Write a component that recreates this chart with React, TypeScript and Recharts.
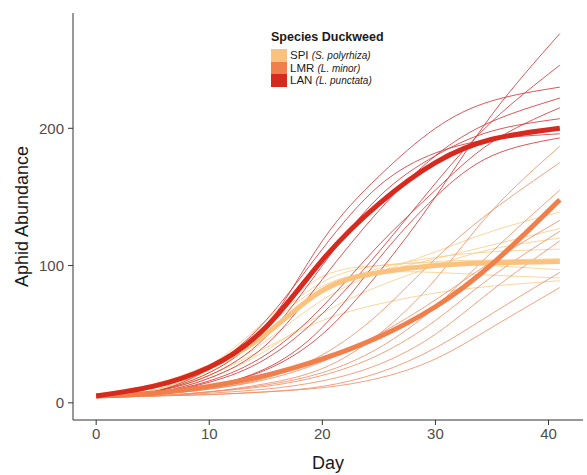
import { Line, LineChart, XAxis, YAxis } from "recharts";

// sampled days for every curve
const days = [0, 5, 10, 15, 20, 25, 30, 35, 41];

// fitted mean curves per species
const spiMean = [5, 12, 26, 50, 82, 95, 100, 102, 103];
const lmrMean = [5, 7, 12, 20, 32, 48, 70, 101, 148];
const lanMean = [5, 12, 26, 55, 104, 145, 175, 192, 200];

// individual replicates
const spiReps = [
  [4, 8, 20, 45, 75, 95, 110, 125, 139],
  [4, 8, 22, 50, 80, 95, 105, 115, 127],
  [4, 9, 25, 55, 85, 95, 95, 93, 91],
  [4, 8, 20, 40, 60, 72, 80, 85, 89],
  [4, 9, 27, 60, 92, 100, 103, 104, 105],
  [4, 8, 24, 52, 82, 98, 106, 110, 112],
  [4, 7, 18, 38, 65, 85, 100, 112, 120],
  [4, 9, 26, 57, 88, 100, 102, 100, 97],
];

const lmrReps = [
  [4, 5, 8, 14, 25, 50, 90, 140, 187],
  [4, 5, 8, 13, 22, 40, 70, 110, 155],
  [4, 5, 7, 10, 16, 28, 50, 82, 118],
  [4, 5, 6, 8, 12, 22, 40, 65, 95],
  [4, 5, 6, 8, 11, 18, 32, 55, 84],
  [4, 6, 10, 18, 35, 65, 105, 140, 175],
  [4, 6, 10, 17, 30, 50, 75, 103, 133],
  [4, 5, 8, 12, 20, 35, 60, 92, 125],
];

const lanReps = [
  [4, 6, 12, 24, 50, 95, 150, 210, 269],
  [4, 7, 15, 32, 65, 110, 160, 205, 246],
  [4, 8, 22, 55, 118, 165, 200, 220, 230],
  [4, 7, 18, 42, 90, 140, 180, 205, 222],
  [4, 8, 20, 48, 100, 150, 180, 198, 207],
  [4, 8, 25, 60, 112, 158, 182, 192, 196],
  [4, 6, 12, 25, 55, 105, 150, 180, 193],
  [4, 7, 16, 35, 70, 115, 155, 190, 215],
];

const species = ["SPI", "LMR", "LAN"];
const speciesLatin = ["S. polyrhiza", "L. minor", "L. punctata"];
const meanColors = ["#fbc27e", "#f07f4b", "#d8291f"];
const repColors = ["#f9cf8e", "#ef9068", "#d23a3c"];

const rows = days.map((d, i) => {
  const r: Record<string, number> = { day: d, spi: spiMean[i], lmr: lmrMean[i], lan: lanMean[i] };
  spiReps.forEach((s, j) => (r[`spi${j}`] = s[i]));
  lmrReps.forEach((s, j) => (r[`lmr${j}`] = s[i]));
  lanReps.forEach((s, j) => (r[`lan${j}`] = s[i]));
  return r;
});

const font = "'Liberation Sans', Arial, sans-serif";
const tick = { fill: "#4d4d4d", fontSize: 15, fontFamily: font };

function SpeciesLegend() {
  return (
    <div style={{ position: "absolute", left: 271, top: 30, fontFamily: font, color: "#1a1a1a" }}>
      <div style={{ fontWeight: "bold", fontSize: 12.5, marginBottom: 5 }}>Species Duckweed</div>
      {species.map((s, i) => (
        <div key={s} style={{ display: "flex", alignItems: "center", height: 12.5 }}>
          <span style={{ width: 16, height: 12.5, background: meanColors[i], marginRight: 3 }} />
          <span style={{ fontSize: 11.5 }}>
            {s} <i style={{ fontSize: 10 }}>({speciesLatin[i]})</i>
          </span>
        </div>
      ))}
    </div>
  );
}

export default function App() {
  const reps: [string, number][] = [
    ...spiReps.map((_, j) => [`spi${j}`, 0] as [string, number]),
    ...lmrReps.map((_, j) => [`lmr${j}`, 1] as [string, number]),
    ...lanReps.map((_, j) => [`lan${j}`, 2] as [string, number]),
  ];
  return (
    <div style={{ position: "absolute", left: 0, top: 0, width: 587, height: 475, background: "#fff" }}>
      <LineChart
        width={587}
        height={475}
        data={rows}
        margin={{ top: 13, right: 4, bottom: 0, left: 0 }}
      >
        <XAxis
          dataKey="day"
          type="number"
          domain={[-2.05, 43.05]}
          ticks={[0, 10, 20, 30, 40]}
          tick={tick}
          tickSize={5}
          tickMargin={3}
          stroke="#333"
          height={55}
          label={{ value: "Day", position: "insideBottom", offset: 6, fill: "#1a1a1a", fontSize: 18, fontFamily: font }}
        />
        <YAxis
          type="number"
          domain={[-12.5, 284]}
          ticks={[0, 100, 200]}
          tick={tick}
          tickSize={5}
          tickMargin={4}
          stroke="#333"
          width={73}
          label={{
            value: "Aphid Abundance",
            angle: -90,
            position: "insideLeft",
            offset: 22,
            style: { textAnchor: "middle" },
            fill: "#1a1a1a",
            fontSize: 18,
            fontFamily: font,
          }}
        />
        {reps.map(([key, s]) => (
          <Line
            key={key}
            type="natural"
            dataKey={key}
            stroke={repColors[s]}
            strokeWidth={1}
            strokeOpacity={0.85}
            dot={false}
            isAnimationActive={false}
          />
        ))}
        <Line type="natural" dataKey="spi" stroke={meanColors[0]} strokeWidth={5} dot={false} isAnimationActive={false} />
        <Line type="natural" dataKey="lmr" stroke={meanColors[1]} strokeWidth={5} dot={false} isAnimationActive={false} />
        <Line type="natural" dataKey="lan" stroke={meanColors[2]} strokeWidth={5} dot={false} isAnimationActive={false} />
      </LineChart>
      <SpeciesLegend />
    </div>
  );
}
